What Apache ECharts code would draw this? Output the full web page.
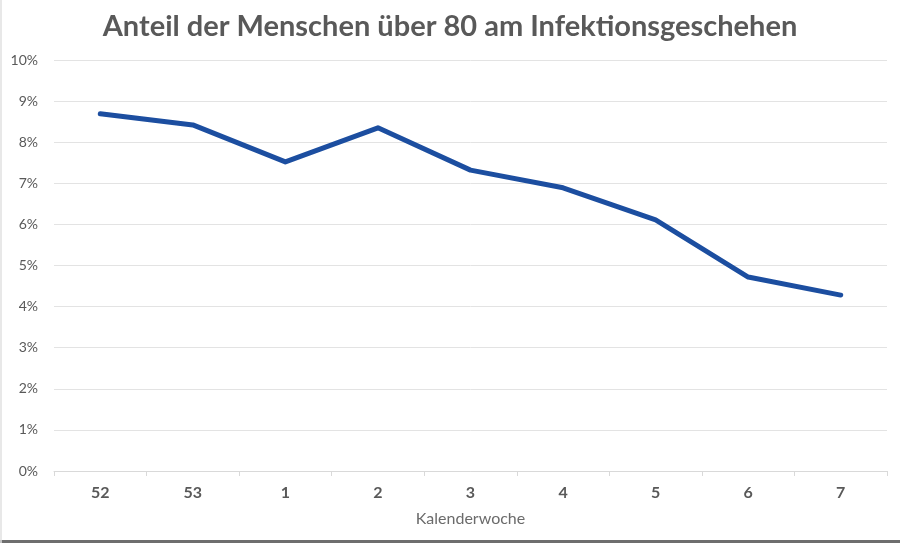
<!DOCTYPE html>
<html>
<head>
<meta charset="utf-8">
<script src="https://cdn.jsdelivr.net/npm/echarts@6/dist/echarts.min.js"></script>
<style>html,body{margin:0;padding:0;background:#fff}#c{width:900px;height:543px}</style>
</head>
<body>
<div id="c"></div>
<script>
const categories = ['52','53','1','2','3','4','5','6','7'];
const shareValues = [8.69, 8.42, 7.52, 8.35, 7.32, 6.89, 6.11, 4.72, 4.28];
const titleText = 'Anteil der Menschen über 80 am Infektionsgeschehen';
const xAxisName = 'Kalenderwoche';

const chart = echarts.init(document.getElementById('c'));
chart.setOption({
  backgroundColor: '#fff',
  animation: false,
  title: {
    text: titleText,
    left: 'center',
    top: 7,
    textStyle: {fontFamily: 'Lato', fontWeight: 'bold', fontSize: 29, color: '#595959'}
  },
  grid: {left: 54, right: 13, top: 60, bottom: 72, containLabel: false},
  xAxis: {
    type: 'category',
    data: categories,
    boundaryGap: true,
    name: xAxisName,
    nameLocation: 'middle',
    nameGap: 40,
    nameTextStyle: {fontFamily: 'Lato', fontSize: 16, color: '#6b6b6b'},
    axisLine: {lineStyle: {color: '#d9d9d9', width: 1}},
    axisTick: {show: true, alignWithLabel: false, length: 5, lineStyle: {color: '#d9d9d9'}},
    axisLabel: {fontFamily: 'Lato', fontWeight: 'bold', fontSize: 16, color: '#595959', margin: 14}
  },
  yAxis: {
    type: 'value',
    min: 0,
    max: 10,
    interval: 1,
    axisLine: {show: false},
    axisTick: {show: false},
    splitLine: {lineStyle: {color: '#e3e3e3', width: 1}},
    axisLabel: {fontFamily: 'Lato', fontSize: 14, color: '#595959', margin: 16, formatter: '{value}%'}
  },
  graphic: [
    {type: 'line', shape: {x1: 0, y1: 541.5, x2: 900, y2: 541.5}, style: {stroke: '#6e6e6e', lineWidth: 3}},
    {type: 'line', shape: {x1: 1, y1: 0, x2: 1, y2: 543}, style: {stroke: '#e0e0e0', lineWidth: 1.5}}
  ],
  series: [{
    type: 'line',
    data: shareValues,
    symbol: 'none',
    lineStyle: {color: '#1c4ea0', width: 5, join: 'round', cap: 'round'}
  }]
});
</script>
</body>
</html>
